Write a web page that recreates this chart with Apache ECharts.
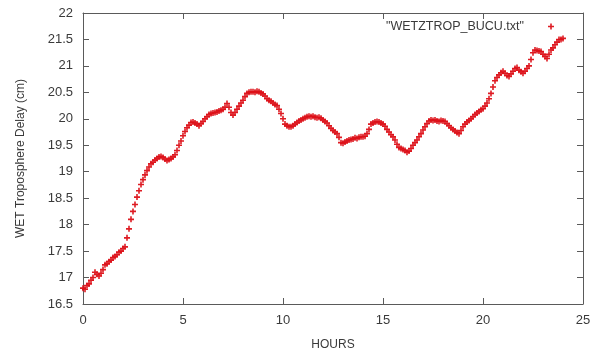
<!DOCTYPE html>
<html>
<head>
<meta charset="utf-8">
<title>WET Troposphere Delay</title>
<script src="https://cdn.jsdelivr.net/npm/echarts@6/dist/echarts.min.js"></script>
<style>
  html, body { margin: 0; padding: 0; background: #ffffff; }
  #chart { width: 605px; height: 356px; }
</style>
</head>
<body>
<div id="chart"></div>
<script>
// Wet tropospheric delay at BUCU, one sample every 0.1 hour from 0 h to 24 h
const seriesName = '"WETZTROP_BUCU.txt"';
const sampleStepHours = 0.1;
const delayCm = [
  16.80, 16.78, 16.85, 16.88, 16.95, 17.00, 17.10, 17.06, 17.03, 17.08,
  17.15, 17.24, 17.26, 17.30, 17.33, 17.38, 17.40, 17.43, 17.48, 17.50,
  17.55, 17.58, 17.75, 17.92, 18.10, 18.25, 18.38, 18.52, 18.64, 18.76,
  18.85, 18.94, 19.02, 19.09, 19.15, 19.18, 19.22, 19.25, 19.28, 19.29,
  19.27, 19.24, 19.21, 19.23, 19.25, 19.28, 19.32, 19.40, 19.50, 19.58,
  19.68, 19.76, 19.83, 19.88, 19.93, 19.94, 19.92, 19.90, 19.87, 19.91,
  19.95, 20.00, 20.04, 20.08, 20.10, 20.11, 20.12, 20.13, 20.15, 20.16,
  20.18, 20.22, 20.29, 20.22, 20.12, 20.07, 20.12, 20.18, 20.24, 20.30,
  20.35, 20.42, 20.48, 20.50, 20.51, 20.51, 20.50, 20.52, 20.51, 20.49,
  20.47, 20.43, 20.38, 20.35, 20.33, 20.30, 20.27, 20.25, 20.18, 20.10,
  20.00, 19.90, 19.87, 19.85, 19.85, 19.87, 19.90, 19.93, 19.96, 19.98,
  20.00, 20.02, 20.04, 20.05, 20.04, 20.05, 20.03, 20.02, 20.03, 20.01,
  19.98, 19.95, 19.92, 19.87, 19.82, 19.78, 19.75, 19.72, 19.65, 19.55,
  19.54, 19.56, 19.58, 19.60, 19.61, 19.62, 19.64, 19.63, 19.65, 19.66,
  19.66, 19.67, 19.72, 19.80, 19.90, 19.92, 19.94, 19.95, 19.94, 19.92,
  19.90, 19.86, 19.80, 19.75, 19.70, 19.66, 19.60, 19.52, 19.46, 19.44,
  19.42, 19.40, 19.37, 19.39, 19.44, 19.50, 19.55, 19.60, 19.66, 19.72,
  19.79, 19.85, 19.91, 19.96, 19.98, 19.97, 19.98, 19.96, 19.95, 19.97,
  19.96, 19.95, 19.91, 19.87, 19.83, 19.80, 19.77, 19.74, 19.72, 19.78,
  19.85, 19.90, 19.94, 19.97, 20.00, 20.04, 20.08, 20.11, 20.14, 20.17,
  20.19, 20.24, 20.30, 20.38, 20.48, 20.60, 20.72, 20.78, 20.83, 20.87,
  20.90, 20.86, 20.82, 20.80, 20.85, 20.90, 20.95, 20.97, 20.92, 20.89,
  20.86, 20.90, 20.95, 21.00, 21.12, 21.25, 21.30, 21.29, 21.28, 21.27,
  21.22, 21.18, 21.14, 21.22, 21.30, 21.34, 21.40, 21.45, 21.50, 21.50,
  21.52
];

// Axis ranges and tick spacing
const xRange = [0, 25];
const xStep = 5;
const yRange = [16.5, 22];
const yStep = 0.5;
const xTitle = 'HOURS';
const yTitle = 'WET Troposphere Delay (cm)';

const points = delayCm.map((v, i) => [Number((i * sampleStepHours).toFixed(1)), v]);

const FONT = '"Liberation Sans", Arial, sans-serif';
const FRAME = '#5a5a5a';
const TEXT = '#3a3a3a';
const RED = '#dc1018';
// plus-shaped point marker
const PLUS = 'path://M-0.8,-3H0.8V-0.8H3V0.8H0.8V3H-0.8V0.8H-3V-0.8H-0.8Z';

const frameLine = { show: true, onZero: false, lineStyle: { color: FRAME, width: 1 } };
const innerTicks = { show: true, inside: true, length: 6, lineStyle: { color: FRAME, width: 1 } };

const chart = echarts.init(document.getElementById('chart'), null, { renderer: 'canvas' });
chart.setOption({
  animation: false,
  backgroundColor: '#ffffff',
  textStyle: { fontFamily: FONT },
  grid: { left: 83, right: 22, top: 13, bottom: 52, containLabel: false },
  legend: {
    show: true,
    data: [seriesName],
    right: 51,
    top: 20,
    align: 'right',
    itemWidth: 44,
    itemHeight: 6,
    itemGap: 0,
    icon: PLUS,
    textStyle: { color: TEXT, fontSize: 12.5, fontFamily: FONT },
    padding: 0
  },
  xAxis: [
    {
      type: 'value', position: 'bottom',
      min: xRange[0], max: xRange[1], interval: xStep,
      axisLine: frameLine, axisTick: innerTicks,
      axisLabel: { show: true, margin: 10, color: TEXT, fontSize: 13, fontFamily: FONT },
      splitLine: { show: false },
      name: xTitle, nameLocation: 'middle', nameGap: 35,
      nameTextStyle: { color: TEXT, fontSize: 12, fontFamily: FONT }
    },
    {
      type: 'value', position: 'top',
      min: xRange[0], max: xRange[1], interval: xStep,
      axisLine: frameLine, axisTick: innerTicks,
      axisLabel: { show: false }, splitLine: { show: false }
    }
  ],
  yAxis: [
    {
      type: 'value', position: 'left',
      min: yRange[0], max: yRange[1], interval: yStep,
      axisLine: frameLine, axisTick: innerTicks,
      axisLabel: { show: true, margin: 10, color: TEXT, fontSize: 13, fontFamily: FONT },
      splitLine: { show: false },
      name: yTitle, nameLocation: 'middle', nameGap: 56, nameRotate: 90,
      nameTextStyle: { color: TEXT, fontSize: 12, fontFamily: FONT }
    },
    {
      type: 'value', position: 'right',
      min: yRange[0], max: yRange[1], interval: yStep,
      axisLine: frameLine, axisTick: innerTicks,
      axisLabel: { show: false }, splitLine: { show: false }
    }
  ],
  series: [
    {
      name: seriesName,
      type: 'scatter',
      xAxisIndex: 0,
      yAxisIndex: 0,
      symbol: PLUS,
      symbolSize: 6,
      itemStyle: { color: RED, opacity: 0.95 },
      data: points
    }
  ]
});
</script>
</body>
</html>
